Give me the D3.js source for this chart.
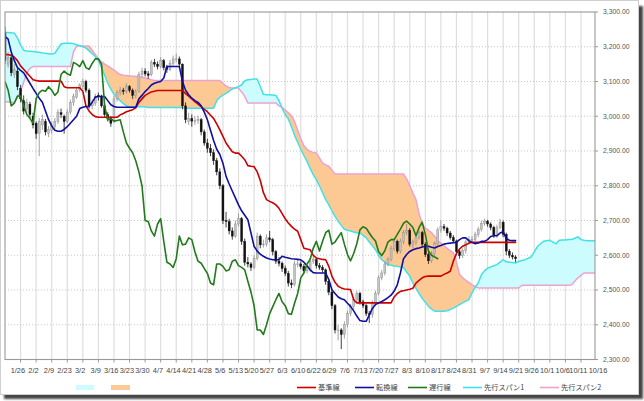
<!DOCTYPE html>
<html><head><meta charset="utf-8">
<script src="https://cdn.jsdelivr.net/npm/d3@7"></script>
<style>body{margin:0;background:#fff;}svg{display:block}</style>
</head><body>
<script>
// ---------- data ----------
const xLabels = ["1/26","2/2","2/9","2/23","3/2","3/9","3/16","3/23","3/30","4/7","4/14","4/21","4/28","5/6","5/13","5/20","5/27","6/3","6/10","6/22","6/29","7/6","7/13","7/20","7/27","8/3","8/10","8/17","8/24","8/31","9/7","9/14","9/21","9/26","10/1","10/6","10/11","10/16"];
const yTicks = [3300,3200,3100,3000,2900,2800,2700,2600,2500,2400,2300];

const open = [3240,3150,3168,3120,3130,3080,3045,3020,3035,3000,
2980,2950,2975,2985,2950,2960,2970,2985,3010,3000,
2985,3012,3040,3055,3078,3085,3100,3075,3030,3038,
3060,3058,3030,3005,2994,2985,3050,3068,3075,3072,
3085,3075,3060,3072,3120,3130,3122,3120,3155,3150,
3143,3160,3140,3135,3152,3165,3165,3150,3030,2985,
2993,2986,2988,2990,2955,2923,2908,2895,2872,2840,
2800,2700,2697,2670,2655,2690,2705,2640,2580,2575,
2565,2590,2655,2630,2632,2650,2645,2610,2583,2577,
2562,2548,2520,2515,2575,2575,2568,2555,2558,2583,
2587,2570,2565,2558,2525,2494,2455,2385,2385,2372,
2400,2432,2452,2472,2490,2466,2455,2432,2430,2462,
2490,2535,2549,2575,2588,2620,2640,2612,2640,2665,
2672,2632,2638,2652,2665,2632,2602,2584,2605,2633,
2673,2682,2678,2664,2651,2641,2610,2599,2613,2638,
2645,2645,2660,2675,2692,2698,2690,2680,2656,2680,
2695,2660,2612,2600,2595];
const high = [3258,3185,3175,3150,3138,3090,3060,3050,3042,3010,
2985,2995,3005,2992,2972,2985,2995,3020,3022,3005,
3020,3048,3065,3085,3095,3108,3105,3080,3048,3065,
3068,3062,3035,3012,3000,3058,3075,3085,3082,3095,
3090,3080,3078,3128,3140,3138,3130,3162,3165,3158,
3170,3165,3148,3162,3175,3180,3172,3152,3040,3010,
3005,3000,3002,2995,2962,2935,2920,2905,2880,2850,
2805,2725,2705,2680,2700,2720,2710,2648,2595,2580,
2600,2665,2660,2645,2660,2670,2650,2615,2595,2582,
2570,2555,2530,2585,2590,2582,2575,2568,2592,2598,
2592,2578,2572,2562,2530,2500,2460,2400,2390,2410,
2440,2460,2480,2498,2495,2472,2460,2440,2470,2498,
2542,2558,2582,2595,2628,2648,2645,2648,2672,2690,
2678,2645,2660,2672,2670,2638,2610,2612,2640,2680,
2700,2690,2682,2670,2658,2645,2615,2620,2645,2655,
2655,2668,2682,2700,2705,2702,2695,2685,2688,2705,
2700,2665,2618,2608,2600];
const low = [3150,3140,3115,3110,3075,3040,3005,3010,2995,2965,
2935,2885,2960,2945,2940,2950,2962,2978,2995,2950,
2980,3005,3030,3050,3070,3078,3068,3022,3020,3030,
3045,3025,2998,2985,2970,2980,3042,3060,3062,3065,
3068,3050,3052,3068,3112,3115,3108,3115,3142,3135,
3138,3132,3125,3130,3145,3155,3140,3020,2980,2975,
2970,2975,2978,2945,2915,2895,2885,2860,2830,2790,
2690,2680,2660,2645,2650,2682,2630,2570,2565,2555,
2560,2585,2620,2622,2625,2638,2600,2575,2568,2552,
2540,2510,2505,2510,2565,2560,2548,2548,2552,2575,
2562,2558,2550,2515,2485,2445,2375,2355,2330,2360,
2392,2425,2445,2462,2458,2448,2425,2405,2420,2455,
2485,2528,2542,2568,2582,2612,2605,2605,2632,2658,
2625,2620,2630,2645,2625,2595,2575,2578,2598,2628,
2665,2670,2655,2645,2635,2600,2590,2592,2605,2630,
2635,2640,2652,2668,2685,2682,2672,2650,2650,2675,
2652,2600,2592,2588,2580];
const close = [3160,3170,3125,3135,3085,3050,3015,3040,3005,2975,
2950,2985,2990,2955,2962,2975,2985,3012,3005,2985,
3012,3040,3058,3075,3090,3100,3075,3030,3038,3058,
3058,3030,3005,2994,2980,3050,3068,3075,3072,3085,
3075,3060,3070,3120,3130,3122,3118,3155,3150,3143,
3160,3140,3135,3152,3165,3165,3150,3030,2990,2993,
2986,2988,2990,2955,2923,2908,2895,2872,2840,2800,
2700,2697,2670,2655,2690,2705,2640,2580,2575,2565,
2590,2655,2630,2632,2650,2645,2610,2583,2577,2562,
2548,2520,2515,2575,2575,2568,2555,2558,2583,2587,
2570,2565,2558,2525,2494,2455,2385,2385,2372,2400,
2432,2452,2472,2490,2466,2455,2432,2430,2462,2490,
2535,2549,2575,2588,2620,2640,2612,2640,2665,2672,
2632,2638,2652,2665,2632,2602,2584,2605,2633,2673,
2682,2678,2664,2651,2641,2610,2599,2613,2638,2645,
2645,2660,2675,2692,2698,2690,2680,2656,2680,2695,
2660,2612,2600,2595,2590];

const tenkan = [3230,3222,3185,3160,3140,3132,3125,3110,3095,3080,
3066,3052,3040,3015,2990,2972,2960,2957,2957,2962,
2970,2980,2990,3000,3022,3026,3028,3028,3040,3055,
3057,3057,3057,3045,3033,3028,3026,3026,3026,3026,
3026,3026,3026,3050,3060,3071,3080,3090,3095,3098,
3100,3110,3143,3143,3143,3143,3143,3100,3075,3062,
3052,3045,3040,3030,3012,2990,2960,2930,2905,2890,
2865,2827,2805,2785,2765,2745,2728,2715,2702,2664,
2626,2612,2603,2597,2592,2589,2587,2587,2587,2597,
2594,2592,2590,2589,2588,2587,2580,2570,2558,2550,
2549,2549,2549,2549,2530,2501,2490,2480,2475,2472,
2462,2453,2440,2425,2412,2410,2410,2428,2447,2458,
2463,2467,2472,2478,2485,2497,2515,2549,2590,2602,
2611,2616,2619,2621,2624,2626,2626,2623,2621,2625,
2628,2632,2634,2635,2636,2637,2645,2650,2650,2642,
2637,2633,2635,2640,2640,2645,2654,2656,2656,2664,
2668,2648,2643,2642,2642];
const kijun = [3178,3177,3176,3170,3160,3145,3135,3125,3115,3105,
3103,3101,3101,3101,3101,3101,3101,3101,3101,3085,
3082,3082,3082,3082,3082,3072,3030,3015,3005,2999,
2997,2997,2997,2997,2997,2997,2997,3004,3008,3013,
3016,3019,3024,3040,3050,3060,3065,3070,3072,3074,
3074,3074,3074,3074,3074,3074,3074,3074,3065,3058,
3050,3042,3035,3028,3020,3013,3003,2994,2978,2961,
2942,2923,2910,2898,2894,2894,2885,2875,2858,2856,
2855,2840,2815,2780,2760,2755,2751,2745,2735,2720,
2705,2693,2683,2675,2669,2645,2620,2618,2616,2600,
2592,2590,2588,2587,2568,2540,2522,2511,2506,2503,
2502,2501,2472,2463,2463,2463,2463,2463,2463,2463,
2463,2463,2463,2463,2463,2480,2490,2496,2498,2500,
2502,2505,2520,2528,2535,2539,2540,2540,2540,2540,
2540,2545,2549,2554,2583,2605,2618,2626,2630,2635,
2637,2637,2637,2637,2637,2637,2637,2637,2637,2637,
2637,2637,2637,2637,2637];
const span1 = [3242,3241,3240,3239,3225,3205,3190,3188,3187,3186,
3185,3184,3182,3181,3180,3179,3181,3195,3208,3210,
3210,3210,3209,3206,3203,3200,3196,3188,3180,3172,
3160,3140,3118,3095,3078,3063,3053,3045,3036,3030,
3027,3027,3027,3027,3027,3027,3025,3025,3025,3025,
3025,3025,3025,3025,3025,3025,3025,3025,3023,3023,
3023,3023,3023,3023,3023,3023,3023,3023,3045,3055,
3061,3066,3072,3078,3082,3085,3090,3102,3105,3106,
3107,3107,3085,3063,3062,3062,3061,3060,3045,3023,
3005,2992,2970,2945,2925,2905,2887,2870,2850,2832,
2817,2800,2780,2760,2745,2728,2712,2698,2686,2675,
2672,2670,2667,2665,2664,2657,2650,2638,2627,2616,
2600,2587,2580,2573,2571,2569,2568,2566,2564,2552,
2540,2520,2505,2490,2476,2465,2453,2445,2439,2439,
2439,2439,2440,2444,2448,2453,2458,2463,2468,2472,
2492,2508,2520,2544,2555,2563,2566,2570,2573,2580,
2587,2581,2580,2579,2578,2582,2585,2587,2591,2595,
2610,2625,2633,2640,2642,2643,2638,2633,2643,2644,
2644,2645,2645,2649,2653,2645,2643,2642,2642,2642,2642];
const span2 = [3042,3041,3040,3039,3055,3071,3098,3124,3138,3143,
3143,3143,3143,3143,3143,3143,3143,3143,3143,3143,
3143,3143,3185,3202,3202,3202,3202,3202,3190,3178,
3165,3157,3150,3145,3139,3133,3126,3120,3118,3117,
3116,3115,3115,3114,3112,3110,3108,3105,3103,3103,
3103,3103,3103,3103,3103,3103,3103,3103,3103,3103,
3103,3103,3103,3103,3103,3103,3103,3103,3103,3103,
3095,3087,3083,3081,3081,3081,3070,3057,3038,3038,
3038,3038,3038,3038,3038,3038,3038,3038,3030,3026,
3018,3010,3002,2985,2960,2935,2915,2905,2899,2896,
2894,2880,2865,2860,2856,2845,2834,2834,2834,2834,
2834,2834,2834,2834,2834,2834,2834,2834,2834,2834,
2834,2834,2834,2834,2834,2834,2834,2834,2834,2820,
2800,2780,2760,2720,2690,2678,2672,2665,2655,2642,
2635,2628,2620,2613,2607,2580,2545,2535,2528,2522,
2515,2510,2506,2506,2506,2506,2506,2506,2506,2506,
2506,2506,2506,2506,2506,2506,2513,2514,2514,2514,
2514,2514,2514,2514,2514,2514,2514,2514,2514,2514,
2514,2514,2515,2525,2535,2542,2549,2549,2549,2549,2549];
const chikouShift = 25;
const legendItems = [
  {name:"基準線", color:"#cc0000", x:297},
  {name:"転換線", color:"#1010a0", x:355},
  {name:"遅行線", color:"#217a1c", x:408},
  {name:"先行スパン1", color:"#3fe2e6", x:463},
  {name:"先行スパン2", color:"#eba2d0", x:540}
];

// ---------- layout ----------
const W = 644, H = 401;
const L = 5, R = 595, T = 12, B = 359.5;
const C = {kijun:"#cc0000", tenkan:"#1010a0", chikou:"#217a1c", s1:"#3fe2e6", s2:"#eba2d0",
           fillUp:"#ccfcfe", fillDn:"#fcc995"};
const numFont = "'Liberation Sans', Arial, sans-serif";
const jpFont = "'Noto Sans CJK JP', sans-serif";

const svg = d3.select("body").append("svg").attr("width", W).attr("height", H);

// frame + shadow
const defs = svg.append("defs");
defs.append("filter").attr("id","blur").append("feGaussianBlur").attr("stdDeviation",0.8);
svg.append("rect").attr("x",4).attr("y",6).attr("width",639).attr("height",393)
  .attr("fill","#444").attr("filter","url(#blur)");
svg.append("rect").attr("x",0.5).attr("y",0.5).attr("width",638).attr("height",394)
  .attr("fill","#fff").attr("stroke","#cfcfcf");

const x = d3.scaleLinear().domain([0, 189.5]).range([L, R]);
const y = d3.scaleLinear().domain([2300, 3300]).range([B, T]);

defs.append("clipPath").attr("id","plot").append("rect")
  .attr("x",L).attr("y",T).attr("width",R-L).attr("height",B-T);

// vertical grid
const gridIdx = d3.range(0, 37).map(k => 5 + 5*k);
svg.append("g").selectAll("line").data(gridIdx).join("line")
  .attr("x1", d => x(d)).attr("x2", d => x(d)).attr("y1", T).attr("y2", B)
  .attr("stroke", "#dedede").attr("stroke-width", 1.2);
// horizontal dotted grid
svg.append("g").selectAll("line").data(yTicks.slice(1, -1)).join("line")
  .attr("x1", L).attr("x2", R).attr("y1", d => y(d)).attr("y2", d => y(d))
  .attr("stroke", "#b8b8b8").attr("stroke-width", 0.8).attr("stroke-dasharray", "1,2");

const plot = svg.append("g").attr("clip-path", "url(#plot)");

// cloud
const idx = d3.range(span1.length);
const areaBetween = d3.area().x(i => x(i)).y0(i => y(span2[i])).y1(i => y(span1[i]));
const aboveS2 = d3.area().x(i => x(i)).y0(i => y(span2[i])).y1(T - 5);
const belowS2 = d3.area().x(i => x(i)).y0(i => y(span2[i])).y1(B + 5);
defs.append("clipPath").attr("id","cUp").append("path").attr("d", aboveS2(idx));
defs.append("clipPath").attr("id","cDn").append("path").attr("d", belowS2(idx));
plot.append("path").attr("d", areaBetween(idx)).attr("fill", C.fillUp).attr("clip-path","url(#cUp)");
plot.append("path").attr("d", areaBetween(idx)).attr("fill", C.fillDn).attr("clip-path","url(#cDn)");

const line = d3.line().x(d => x(d[0])).y(d => y(d[1]));
function drawLine(pts, color, w) {
  plot.append("path").attr("d", line(pts)).attr("fill","none").attr("stroke", color)
    .attr("stroke-width", w).attr("stroke-linejoin","round").attr("stroke-linecap","round");
}
drawLine(span2.map((v,i)=>[i,v]), C.s2, 1.5);
drawLine(span1.map((v,i)=>[i,v]), C.s1, 1.5);

// candles
const cIdx = d3.range(close.length);
const cg = plot.append("g");
cg.selectAll("line").data(cIdx).join("line")
  .attr("x1", i => x(i)).attr("x2", i => x(i))
  .attr("y1", i => y(high[i])).attr("y2", i => y(low[i]))
  .attr("stroke", i => close[i] >= open[i] ? "#8a8a8a" : "#111").attr("stroke-width", 0.8);
cg.selectAll("rect").data(cIdx).join("rect")
  .attr("x", i => x(i) - 1).attr("width", 2)
  .attr("y", i => y(Math.max(open[i], close[i])))
  .attr("height", i => Math.max(0.8, Math.abs(y(open[i]) - y(close[i]))))
  .attr("fill", i => close[i] >= open[i] ? "#c4c4c4" : "#111")
  .attr("stroke", i => close[i] >= open[i] ? "#888" : "#111").attr("stroke-width", 0.4);

drawLine(kijun.map((v,i)=>[i,v]), C.kijun, 1.6);
drawLine(tenkan.map((v,i)=>[i,v]), C.tenkan, 1.6);
drawLine(close.map((v,i)=>[i - chikouShift, v]).filter(d => d[0] >= -1), C.chikou, 1.6);

// border
svg.append("rect").attr("x",L).attr("y",T).attr("width",R-L).attr("height",B-T)
  .attr("fill","none").attr("stroke","#999").attr("stroke-width",1.1);

// right axis ticks + labels
const fmt = d3.format(",.2f");
const ya = svg.append("g");
ya.selectAll("line").data(yTicks).join("line")
  .attr("x1", R).attr("x2", R + 3).attr("y1", d => y(d)).attr("y2", d => y(d))
  .attr("stroke", "#999");
ya.selectAll("text").data(yTicks).join("text")
  .attr("x", 603).attr("y", d => y(d)).attr("dy", "0.35em")
  .attr("font-family", numFont).attr("font-size", 6.8).attr("fill", "#555")
  .text(d => fmt(d));

// bottom ticks + labels
svg.append("g").selectAll("line").data(gridIdx).join("line")
  .attr("x1", d => x(d)).attr("x2", d => x(d)).attr("y1", B).attr("y2", B + 3)
  .attr("stroke", "#999");
const labelPos = gridIdx.map(d => x(d) - 2.7).concat([598]);
svg.append("g").selectAll("text").data(xLabels).join("text")
  .attr("x", (d,i) => labelPos[i]).attr("y", 372.5).attr("text-anchor","middle")
  .attr("font-family", numFont).attr("font-size", 7.4).attr("fill", "#444")
  .text(d => d);

// legend
svg.append("rect").attr("x",76).attr("y",385).attr("width",18).attr("height",5).attr("fill",C.fillUp);
svg.append("rect").attr("x",111).attr("y",385).attr("width",19).attr("height",5).attr("fill",C.fillDn);
const lg = svg.append("g").selectAll("g").data(legendItems).join("g");
lg.append("line").attr("x1", d => d.x).attr("x2", d => d.x + 19)
  .attr("y1", 387.5).attr("y2", 387.5).attr("stroke", d => d.color).attr("stroke-width", 1.6);
lg.append("text").attr("x", d => d.x + 21).attr("y", 390.3)
  .attr("font-family", jpFont).attr("font-size", 7.2).attr("fill", "#444")
  .text(d => d.name);
</script>
</body></html>
